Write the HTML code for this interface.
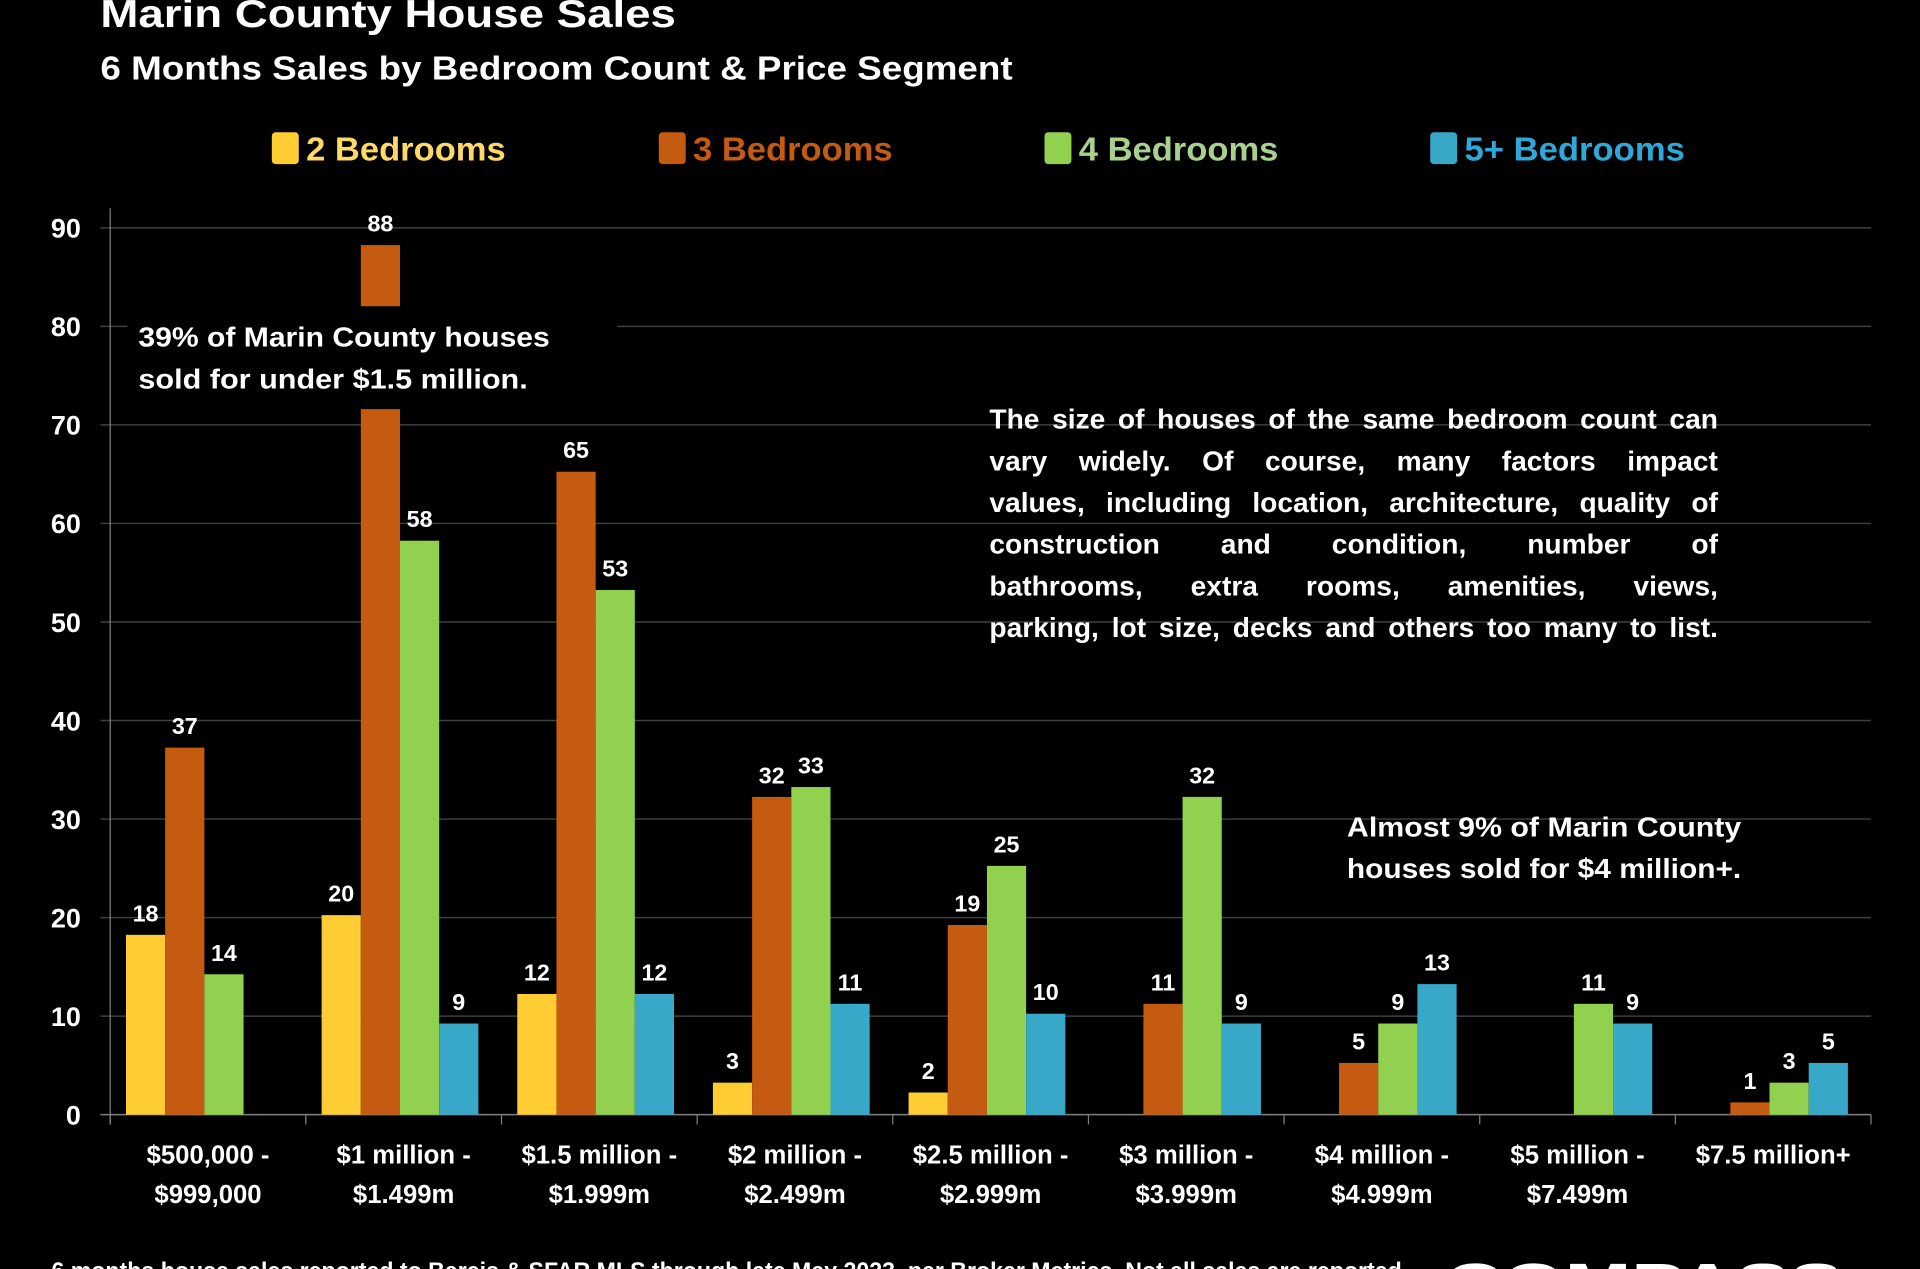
<!DOCTYPE html>
<html><head><meta charset="utf-8"><style>
html,body{margin:0;padding:0;background:#000;overflow:hidden}
svg{display:block}
text{font-family:"Liberation Sans",sans-serif;font-weight:bold}
</style></head><body>
<svg id="chart" width="1920" height="1269" viewBox="0 0 1568 1036" preserveAspectRatio="none" xmlns="http://www.w3.org/2000/svg">
<rect width="1568" height="1036" fill="#000"/>
<text x="82" y="22" fill="#fff" font-size="32" textLength="470" lengthAdjust="spacingAndGlyphs">Marin County House Sales</text>
<text x="82" y="65" fill="#fff" font-size="27" textLength="745" lengthAdjust="spacingAndGlyphs">6 Months Sales by Bedroom Count &amp; Price Segment</text>
<g id="legend"></g>
<g id="grid"></g>
<g id="bars"></g>
<g id="labels"></g>
<rect x="104" y="250" width="400" height="84" fill="#000"/>
<text fill="#fff" font-size="23"><tspan x="113" y="283" textLength="336" lengthAdjust="spacingAndGlyphs">39% of Marin County houses</tspan><tspan x="113" y="317" textLength="318" lengthAdjust="spacingAndGlyphs">sold for under $1.5 million.</tspan></text>
<g id="rightnote" fill="#fff" font-size="23"></g>
<text fill="#fff" font-size="23"><tspan x="1100" y="683" textLength="322" lengthAdjust="spacingAndGlyphs">Almost 9% of Marin County</tspan><tspan x="1100" y="717" textLength="322" lengthAdjust="spacingAndGlyphs">houses sold for $4 million+.</tspan></text>
<text x="42" y="1044" fill="#fff" font-size="20" textLength="1108" lengthAdjust="spacingAndGlyphs">6 months house sales reported to Bareis &amp; SFAR MLS through late May 2023, per Broker Metrics. Not all sales are reported.</text>
<text x="1180" y="1062" fill="#fff" font-size="44" textLength="325" lengthAdjust="spacingAndGlyphs">COMPASS</text>
<script>
const categories=[["$500,000 -","$999,000"],["$1 million -","$1.499m"],["$1.5 million -","$1.999m"],["$2 million -","$2.499m"],["$2.5 million -","$2.999m"],["$3 million -","$3.999m"],["$4 million -","$4.999m"],["$5 million -","$7.499m"],["$7.5 million+",""]];
const seriesNames=["2 Bedrooms","3 Bedrooms","4 Bedrooms","5+ Bedrooms"];
const br2=[18,20,12,3,2,0,0,0,0];
const br3=[37,88,65,32,19,11,5,0,1];
const br4=[14,58,53,33,25,32,9,11,3];
const br5=[0,9,12,11,10,9,13,9,5];
const yTicks=[0,10,20,30,40,50,60,70,80,90];
const series=[br2,br3,br4,br5];
const colors=["#FFCC33","#C55A11","#92D050","#37A8C8"];
const legendText=["#FFD966","#C55A11","#A9D18E","#2EA8D8"];
const NS="http://www.w3.org/2000/svg";
const x0=90,x1=1528,yBase=910,yTop=186,yMax=90;
const bw=(x1-x0)/categories.length;
const barW=32;
function yScale(v){return yBase-(v/yMax)*(yBase-yTop);}
function xBand(i){return x0+bw*(i+0.5);}
function mk(tag,attrs,parent){const e=document.createElementNS(NS,tag);for(const k in attrs)e.setAttribute(k,attrs[k]);parent.appendChild(e);return e;}
const grid=document.getElementById('grid'),bars=document.getElementById('bars'),labels=document.getElementById('labels'),legend=document.getElementById('legend');
yTicks.forEach(t=>{
  const y=yScale(t);
  const l=mk('line',{x1:x0-8,x2:x1,y1:y,y2:y,stroke:t===0?'#808080':'#404040','stroke-width':1.2},grid);
  
  
  const tx=mk('text',{x:66,y:y+8,fill:'#fff','font-size':22,'text-anchor':'end'},grid);
  tx.textContent=t;
  
  
});
const ax=mk('line',{x1:x0,x2:x0,y1:170,y2:918,stroke:'#808080','stroke-width':1},grid);


for(let i=0;i<=categories.length;i++){
  const tk=mk('line',{x1:x0+bw*i,x2:x0+bw*i,y1:yBase,y2:918,stroke:'#808080'},grid);
  
  
}
categories.forEach((c,i)=>{
  const cx=xBand(i);
  c.forEach((line,j)=>{
    if(!line)return;
    const t=mk('text',{x:cx,y:950+j*32,fill:'#fff','font-size':21,'text-anchor':'middle'},labels);
    t.textContent=line;
    
    
  });
  series.forEach((s,k)=>{
    const v=s[i];
    if(!v)return;
    const bx=cx-3-2*barW+k*barW;
    const r=mk('rect',{x:bx,y:yScale(v)-2,width:barW,height:yBase-yScale(v)+2,fill:colors[k]},bars);
    
    
    const t=mk('text',{x:bx+barW/2,y:yScale(v)-13,fill:'#fff','font-size':19,'text-anchor':'middle'},labels);
    t.textContent=v;
    
    
  });
});
const legX=[222,538,853,1168];
seriesNames.forEach((n,k)=>{
  const r=mk('rect',{x:legX[k],y:108,width:22,height:26,rx:3,fill:colors[k]},legend);
  
  
  const t=mk('text',{x:legX[k]+28,y:131,fill:legendText[k],'font-size':27,textLength:n.length>10?180:163,lengthAdjust:'spacingAndGlyphs'},legend);
  t.textContent=n;
  
  
});
const noteLines=["The size of houses of the same bedroom count can","vary widely. Of course, many factors impact","values, including location, architecture, quality of","construction and condition, number of","bathrooms, extra rooms, amenities, views,","parking, lot size, decks and others too many to list."];
const rn=document.getElementById('rightnote');
const nx0=808,nx1=1403;
noteLines.forEach((ln,li)=>{
  const y=350+li*34;
  const words=ln.split(' ');
  const els=words.map(w=>{const t=mk('text',{x:0,y:y},rn);t.textContent=w;return t;});
  const widths=els.map(e=>e.getComputedTextLength());
  const total=widths.reduce((a,b)=>a+b,0);
  let scale=1;
  const minGap=5;
  if(total+minGap*(words.length-1)>nx1-nx0){scale=(nx1-nx0-minGap*(words.length-1))/total;}
  const gap=(nx1-nx0-total*scale)/(words.length-1);
  let x=nx0;
  els.forEach((e,i)=>{
    e.setAttribute('x',x);
    if(scale<1){e.setAttribute('textLength',widths[i]*scale);e.setAttribute('lengthAdjust','spacingAndGlyphs');}
    x+=widths[i]*scale+gap;
  });
});
</script>
</svg>
</body></html>
